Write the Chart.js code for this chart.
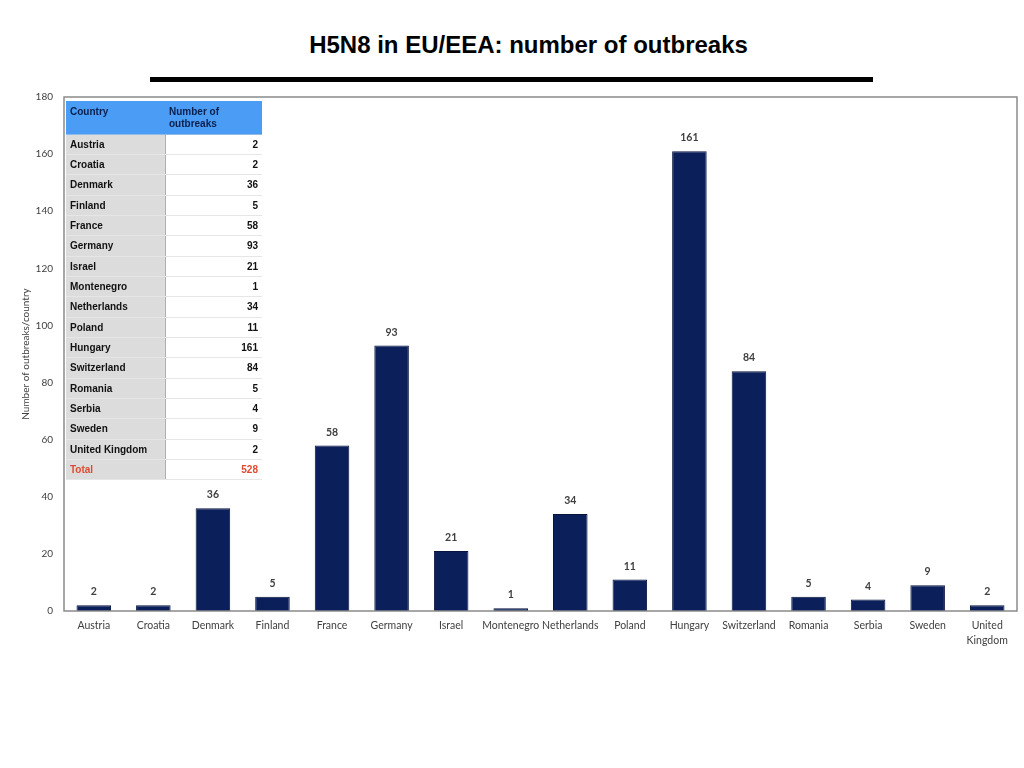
<!DOCTYPE html>
<html>
<head>
<meta charset="utf-8">
<script src="https://cdn.jsdelivr.net/npm/chart.js@4"></script>
<style>
  html, body { margin:0; padding:0; background:#fff; }
  body { width:1024px; height:768px; position:relative; overflow:hidden; }
  #title { position:absolute; left:0; width:1057px; top:31px; text-align:center;
    font-family:"Liberation Sans", Arial, sans-serif; font-weight:bold; font-size:24px; color:#000; }
  #rule { position:absolute; left:150px; top:77px; width:723px; height:5px; background:#000; }
  #wrap { position:absolute; left:0; top:0; width:1024px; height:768px; }
  #tbl { position:absolute; left:66px; top:101px; border-collapse:collapse;
    font-family:"Liberation Sans", Arial, sans-serif; font-weight:bold; font-size:10px; }
  #tbl td { padding:0 4px; height:20.35px; box-sizing:border-box; border-bottom:1px solid #e6e6e6; }
  #tbl td.c { width:99px; background:#dcdcdc; color:#111; border-right:1px solid #b0b0b0; }
  #tbl td.v { width:97px; background:#fff; text-align:right; color:#111; }
  #tbl tr.h td { background:#4a9cf4; color:#0b1f4d; height:33px; vertical-align:top; padding-top:5px; line-height:12px; border-right:none; border-bottom:1px solid #8fb9e6; }
  #tbl tr.h td.v { text-align:left; }
  #tbl tr.t td { color:#e04a33; }
</style>
</head>
<body>
<div id="title">H5N8 in EU/EEA: number of outbreaks</div>
<div id="rule"></div>
<div id="wrap"><canvas id="c" width="1024" height="768"></canvas></div>
<table id="tbl"></table>
<script>
const countries = ['Austria','Croatia','Denmark','Finland','France','Germany','Israel','Montenegro','Netherlands','Poland','Hungary','Switzerland','Romania','Serbia','Sweden','United Kingdom'];
const outbreaks = [2,2,36,5,58,93,21,1,34,11,161,84,5,4,9,2];
const yTicks = [0,20,40,60,80,100,120,140,160,180];
const tableHeader = ['Country','Number of outbreaks'];
const totalLabel = 'Total';
const totalValue = 528;

// table
const tbl = document.getElementById('tbl');
let html = '<tr class="h"><td class="c">' + tableHeader[0] + '</td><td class="v">Number of<br>outbreaks</td></tr>';
countries.forEach((c,i) => { html += '<tr><td class="c">' + c + '</td><td class="v">' + outbreaks[i] + '</td></tr>'; });
html += '<tr class="t"><td class="c">' + totalLabel + '</td><td class="v">' + totalValue + '</td></tr>';
tbl.innerHTML = html;

const labels = countries.map(c => c === 'United Kingdom' ? ['United','Kingdom'] : c);

const framePlugin = {
  id: 'frame',
  afterDraw(chart) {
    const {ctx, chartArea: a} = chart;
    ctx.save();
    ctx.strokeStyle = '#8a8a8a';
    ctx.lineWidth = 1.5;
    ctx.strokeRect(a.left, a.top, a.right - a.left, a.bottom - a.top);
    ctx.restore();
  }
};
const valuePlugin = {
  id: 'values',
  afterDatasetsDraw(chart) {
    const {ctx} = chart;
    const meta = chart.getDatasetMeta(0);
    ctx.save();
    ctx.font = 'bold 10.5px Lato, "Open Sans", sans-serif';
    ctx.fillStyle = '#404040';
    ctx.textAlign = 'center';
    ctx.textBaseline = 'bottom';
    meta.data.forEach((bar, i) => {
      ctx.fillText(String(outbreaks[i]), bar.x, bar.y - 8);
    });
    ctx.restore();
  }
};

new Chart(document.getElementById('c'), {
  type: 'bar',
  data: {
    labels: labels,
    datasets: [{
      data: outbreaks,
      backgroundColor: '#0b1f5a',
      borderColor: '#06133d',
      borderWidth: 1,
      categoryPercentage: 1,
      barPercentage: 0.58
    }]
  },
  options: {
    responsive: false,
    animation: false,
    devicePixelRatio: 1,
    layout: { padding: { top: 97, right: 7, bottom: 117, left: 0 } },
    plugins: { legend: { display: false }, tooltip: { enabled: false } },
    scales: {
      x: {
        grid: { display: false, drawTicks: false },
        border: { display: false },
        ticks: { color: '#404040', font: { family: 'Lato, "Open Sans", sans-serif', size: 10.5, lineHeight: 1.35 }, padding: 8, maxRotation: 0, autoSkip: false },
        afterFit: s => { s.height = 40; }
      },
      y: {
        min: 0, max: 180,
        afterBuildTicks: s => { s.ticks = yTicks.map(v => ({ value: v })); },
        grid: { display: false, drawTicks: false },
        border: { display: false },
        ticks: { color: '#404040', font: { family: 'Lato, "Open Sans", sans-serif', size: 10 }, padding: 11 },
        title: { display: true, text: 'Number of outbreaks/country', color: '#404040', font: { family: 'Lato, "Open Sans", sans-serif', size: 10 }, padding: { top: 20, bottom: 0 } },
        afterFit: s => { s.width = 64; }
      }
    }
  },
  plugins: [framePlugin, valuePlugin]
});
</script>
</body>
</html>
